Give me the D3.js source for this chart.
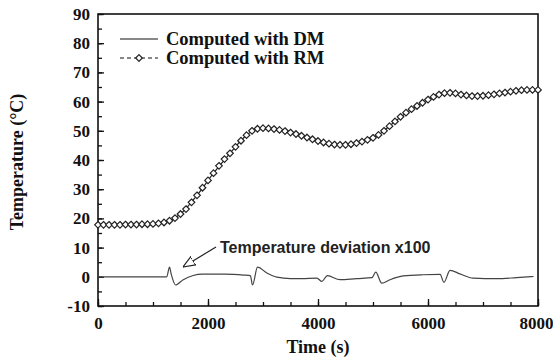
<!DOCTYPE html>
<html>
<head>
<meta charset="utf-8">
<script src="https://cdn.jsdelivr.net/npm/d3@7"></script>
<style>
  body { margin: 0; background: #fff; }
  svg { display: block; }
</style>
</head>
<body>
<div id="chart"></div>
<script>
// RM temperatures, one marker every 100 s from 0 to 8000 s
var rmTime = d3.range(0, 8001, 100);
var rmTemp = [
  17.8, 17.8, 17.8, 17.8, 17.8, 17.9, 17.9, 17.9, 18.0, 18.0,
  18.1, 18.3, 18.6, 19.2, 20.1, 21.5, 23.2, 25.5, 27.9, 30.5,
  33.0, 35.5, 38.0, 40.3, 42.3, 44.5, 46.6, 48.5, 50.0, 50.7,
  50.9, 50.8, 50.6, 50.3, 49.9, 49.4, 48.9, 48.3, 47.7, 47.1,
  46.5, 46.0, 45.6, 45.3, 45.2, 45.2, 45.4, 45.8, 46.3, 46.9,
  47.6, 48.6, 50.0, 51.6, 53.2, 54.8, 56.2, 57.4, 58.5, 59.6,
  60.7, 61.6, 62.4, 62.9, 63.0, 62.8, 62.4, 62.1, 61.9, 61.9,
  62.0, 62.2, 62.5, 62.8, 63.1, 63.4, 63.7, 63.9, 64.0, 64.0,
  64.0
];
// DM line (same path, drawn under the markers)
var dmTime = [0, 1000, 1300, 1500, 1800, 2100, 2400, 2700, 2900, 3000, 3300, 3600, 4000, 4400, 4800, 5100, 5400, 5700, 6000, 6300, 6500, 6900, 7300, 7700, 8000];
var dmTemp = [17.8, 18.1, 19.2, 21.5, 27.9, 35.5, 42.3, 48.5, 50.7, 50.9, 50.3, 48.9, 46.5, 45.2, 46.3, 48.6, 53.2, 57.4, 60.7, 62.9, 62.8, 61.9, 62.8, 63.9, 64.0];
// temperature deviation x100
var devTime = [0, 1250, 1300, 1330, 1410, 1550, 1730, 1900, 2300, 2650, 2770, 2810, 2900, 3070, 3250, 3500, 3700, 3980, 4070, 4170, 4400, 4700, 4980, 5050, 5160, 5310, 5550, 5900, 6220, 6290, 6400, 6580, 6820, 7250, 7610, 7920];
var devVal = [0, 0, 3.3, 1.0, -2.8, -1.0, 0.45, 0.9, 0.9, 0.6, 0.4, -2.8, 3.3, 1.3, -0.1, -0.6, -0.6, -0.45, -1.6, 0.4, -1.0, -0.6, -0.3, 1.6, -2.2, -1.0, 0.3, 0.7, 0.8, -1.9, 2.2, 1.0, -0.45, -0.65, -0.3, 0.1];

var xMajor = [0, 2000, 4000, 6000, 8000];
var yMajor = [-10, 0, 10, 20, 30, 40, 50, 60, 70, 80, 90];
var legendLabels = ["Computed with DM", "Computed with RM"];
var noteLabel = "Temperature deviation x100";

var W = 553, H = 358;
var margin = { top: 14, right: 15, bottom: 52, left: 98 },
  width = W - margin.left - margin.right,
  height = H - margin.top - margin.bottom;

var svg = d3
  .select("#chart")
  .append("svg")
  .attr("width", W)
  .attr("height", H);

var g = svg.append("g")
  .attr("transform", "translate(" + margin.left + "," + margin.top + ")");

var x = d3.scaleLinear().domain([0, 8000]).range([0, width]);
var y = d3.scaleLinear().domain([-10, 90]).range([height, 0]);

var serif = "'Liberation Serif', 'Times New Roman', serif";

// minor + major ticks, pointing inward
g.append("g")
  .attr("transform", "translate(0," + height + ")")
  .call(d3.axisBottom(x).tickValues(d3.range(0, 8001, 500)).tickSize(-4).tickFormat(""))
  .call(a => a.select(".domain").remove());
var xAxis = g.append("g")
  .attr("transform", "translate(0," + height + ")")
  .call(d3.axisBottom(x).tickValues(xMajor).tickSize(-7).tickPadding(11).tickFormat(d => String(d)))
  .call(a => a.select(".domain").remove());
g.append("g")
  .call(d3.axisLeft(y).tickValues(d3.range(-10, 91, 5)).tickSize(-4).tickFormat(""))
  .call(a => a.select(".domain").remove());
g.append("g")
  .call(d3.axisLeft(y).tickValues(yMajor).tickSize(-6).tickPadding(8).tickFormat(d => String(d)))
  .call(a => a.select(".domain").remove());

g.selectAll(".tick line").attr("stroke", "#111").attr("stroke-width", 1.3);
g.selectAll(".tick text")
  .attr("font-family", serif)
  .attr("font-weight", "bold")
  .attr("font-size", 17)
  .attr("fill", "#111");
// keep the last label inside the window
xAxis.selectAll(".tick text")
  .filter(d => d === 8000)
  .attr("text-anchor", "end")
  .attr("dx", 15);

// frame
g.append("rect")
  .attr("width", width)
  .attr("height", height)
  .attr("fill", "none")
  .attr("stroke", "#111")
  .attr("stroke-width", 1.6);

// deviation line
g.append("path")
  .datum(devTime.map((t, i) => [t, devVal[i]]))
  .attr("fill", "none")
  .attr("stroke", "#444")
  .attr("stroke-width", 1.2)
  .attr("d", d3.line().curve(d3.curveMonotoneX).x(d => x(d[0])).y(d => y(d[1])));

// DM line
g.append("path")
  .datum(dmTime.map((t, i) => [t, dmTemp[i]]))
  .attr("fill", "none")
  .attr("stroke", "#222")
  .attr("stroke-width", 1.2)
  .attr("d", d3.line().curve(d3.curveMonotoneX).x(d => x(d[0])).y(d => y(d[1])));

// RM markers
var diamond = "M0,-3.3L3.3,0L0,3.3L-3.3,0Z";
g.selectAll(".rm")
  .data(rmTime.map((t, i) => [t, rmTemp[i]]))
  .enter()
  .append("path")
  .attr("class", "rm")
  .attr("transform", d => "translate(" + x(d[0]) + "," + y(d[1]) + ")")
  .attr("d", diamond)
  .attr("fill", "#fff")
  .attr("stroke", "#222")
  .attr("stroke-width", 1.2);

// legend
var lg = svg.append("g");
lg.append("line")
  .attr("x1", 120).attr("x2", 158).attr("y1", 39).attr("y2", 39)
  .attr("stroke", "#111").attr("stroke-width", 1);
lg.append("line")
  .attr("x1", 120).attr("x2", 158).attr("y1", 58).attr("y2", 58)
  .attr("stroke", "#111").attr("stroke-width", 1)
  .attr("stroke-dasharray", "4,3");
lg.append("path")
  .attr("transform", "translate(139,58)")
  .attr("d", diamond)
  .attr("fill", "#fff")
  .attr("stroke", "#222")
  .attr("stroke-width", 1.2);
lg.selectAll("text")
  .data(legendLabels)
  .enter()
  .append("text")
  .attr("x", 166)
  .attr("y", (d, i) => 45 + i * 19)
  .attr("font-family", serif)
  .attr("font-weight", "bold")
  .attr("font-size", 18.5)
  .attr("fill", "#111")
  .text(d => d);

// annotation
svg.append("defs").append("marker")
  .attr("id", "head")
  .attr("viewBox", "0 0 10 10")
  .attr("refX", 10).attr("refY", 5)
  .attr("markerWidth", 12).attr("markerHeight", 12)
  .attr("markerUnits", "userSpaceOnUse")
  .attr("orient", "auto")
  .append("path")
  .attr("d", "M0,1L10,5L0,9Z")
  .attr("fill", "#fff")
  .attr("stroke", "#222")
  .attr("stroke-width", 1);
svg.append("line")
  .attr("x1", 216).attr("y1", 247)
  .attr("x2", 183).attr("y2", 267)
  .attr("stroke", "#222").attr("stroke-width", 1.2)
  .attr("marker-end", "url(#head)");
svg.append("text")
  .attr("x", 220)
  .attr("y", 253)
  .attr("font-family", "'Liberation Sans', Arial, sans-serif")
  .attr("font-weight", "bold")
  .attr("font-size", 16)
  .attr("fill", "#222")
  .text(noteLabel);

// axis titles
svg.append("text")
  .attr("x", margin.left + width / 2)
  .attr("y", 353)
  .attr("text-anchor", "middle")
  .attr("font-family", serif)
  .attr("font-weight", "bold")
  .attr("font-size", 18)
  .attr("fill", "#111")
  .text("Time (s)");
svg.append("text")
  .attr("transform", "translate(23,162) rotate(-90)")
  .attr("text-anchor", "middle")
  .attr("font-family", serif)
  .attr("font-weight", "bold")
  .attr("font-size", 18)
  .attr("fill", "#111")
  .text("Temperature (°C)");
</script>
</body>
</html>
